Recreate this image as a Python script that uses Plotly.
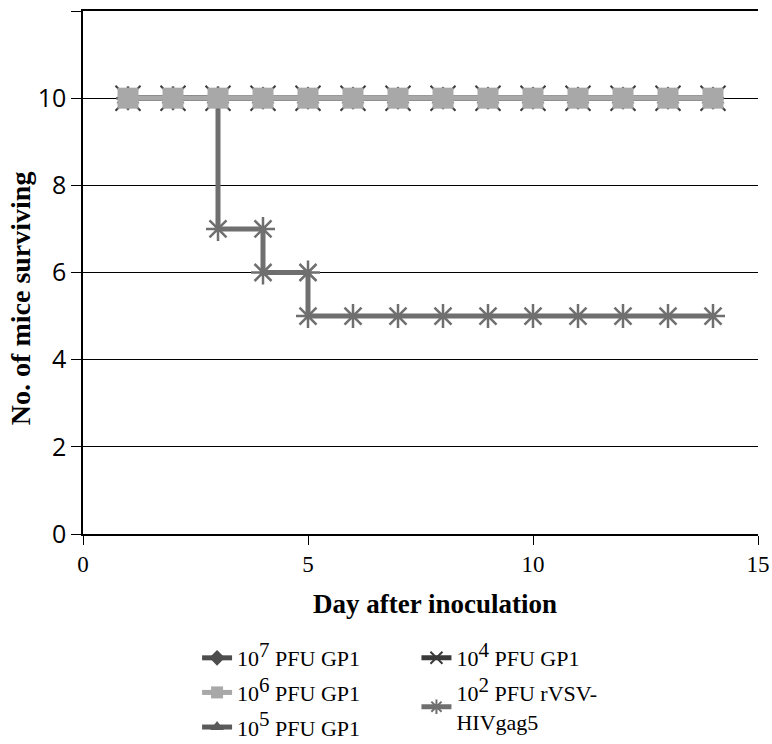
import plotly.graph_objects as go

days = list(range(1, 15))
surv_gp1_e7 = [10] * 14
surv_gp1_e6 = [10] * 14
surv_gp1_e5 = [10] * 14
surv_gp1_e4 = [10] * 14
rvsv_days = [1, 2, 3, 3, 4, 4, 5, 5, 6, 7, 8, 9, 10, 11, 12, 13, 14]
rvsv_surv = [10, 10, 10, 7, 7, 6, 6, 5, 5, 5, 5, 5, 5, 5, 5, 5, 5]

y_ticks = [0, 2, 4, 6, 8, 10, 12]
x_ticks = [0, 5, 10, 15]
x_title = "Day after inoculation"
y_title = "No. of mice surviving"


def sup(base, exp, rest):
    return f"{base}<sup><span style='font-size:21px'>{exp}</span></sup> {rest}"


fig = go.Figure()

fig.add_trace(go.Scatter(
    x=rvsv_days, y=rvsv_surv, mode="lines+markers",
    name=sup("10", "2", "PFU rVSV-<br>HIVgag5"),
    line=dict(color="#6f6f6f", width=5),
    marker=dict(symbol="asterisk-open", size=20, line=dict(color="#6f6f6f", width=2.5)),
    legend="legend2", legendrank=2, legendgroup="g5",
))
fig.add_trace(go.Scatter(
    x=days, y=surv_gp1_e7, mode="lines+markers", name=sup("10", "7", "PFU GP1"),
    line=dict(color="#4d4d4d", width=5),
    marker=dict(symbol="diamond", size=18, color="#4d4d4d"),
    legend="legend", legendrank=1, legendgroup="g1",
))
fig.add_trace(go.Scatter(
    x=days, y=surv_gp1_e5, mode="lines+markers", name=sup("10", "5", "PFU GP1"),
    line=dict(color="#5a5a5a", width=5),
    marker=dict(symbol="triangle-up", size=20, color="#5a5a5a"),
    legend="legend", legendrank=3, legendgroup="g3",
))
fig.add_trace(go.Scatter(
    x=days, y=surv_gp1_e4, mode="lines+markers", name=sup("10", "4", "PFU GP1"),
    line=dict(color="#3a3a3a", width=5),
    marker=dict(symbol="x-thin-open", size=25, line=dict(color="#555555", width=2)),
    legend="legend2", legendrank=1, legendgroup="g4",
))
fig.add_trace(go.Scatter(
    x=days, y=surv_gp1_e6, mode="lines+markers", name=sup("10", "6", "PFU GP1"),
    line=dict(color="#a8a8a8", width=5),
    marker=dict(symbol="square", size=21, color="#a8a8a8"),
    legend="legend", legendrank=2, legendgroup="g2",
))

serif = "Liberation Serif, Times New Roman, serif"
legend_common = dict(yanchor="top", orientation="v", xanchor="left",
                     font=dict(family=serif, size=22), bgcolor="rgba(0,0,0,0)",
                     tracegroupgap=3, itemsizing="constant")
fig.update_layout(
    width=772, height=744,
    margin=dict(l=83, r=14, t=11, b=210, autoexpand=False),
    paper_bgcolor="white", plot_bgcolor="white",
    font=dict(family=serif, color="black", size=22),
    xaxis=dict(
        range=[0, 15], tickvals=x_ticks, showgrid=False, zeroline=False,
        showline=True, linecolor="black", linewidth=1.5, mirror=True,
        ticks="outside", ticklen=9, tickcolor="black", automargin=False,
        tickfont=dict(family=serif, size=23),
    ),
    yaxis=dict(
        range=[0, 12], tickvals=y_ticks, showgrid=True, gridcolor="black", gridwidth=1,
        zeroline=False, showline=True, linecolor="black", linewidth=1.5,
        ticks="outside", ticklen=10, tickcolor="black", automargin=False,
        tickfont=dict(family="Open Sans, DejaVu Sans, sans-serif", size=25),
    ),
    legend=dict(x=0.169, y=-0.197, **legend_common),
    legend2=dict(x=0.494, y=-0.197, **legend_common),
    annotations=[
        dict(text=f"<b>{x_title}</b>", xref="paper", yref="paper", x=0.522, y=-0.134,
             xanchor="center", yanchor="middle", showarrow=False,
             font=dict(family=serif, size=27, color="black")),
        dict(text=f"<b>{y_title}</b>", xref="paper", yref="paper", x=0, xshift=-63, y=0.451,
             xanchor="center", yanchor="middle", showarrow=False, textangle=-90,
             font=dict(family=serif, size=28, color="black")),
    ],
)

fig.write_html("out.html", config={"displayModeBar": False},
               post_script="document.body.style.margin='0';document.body.style.overflow='hidden';")
